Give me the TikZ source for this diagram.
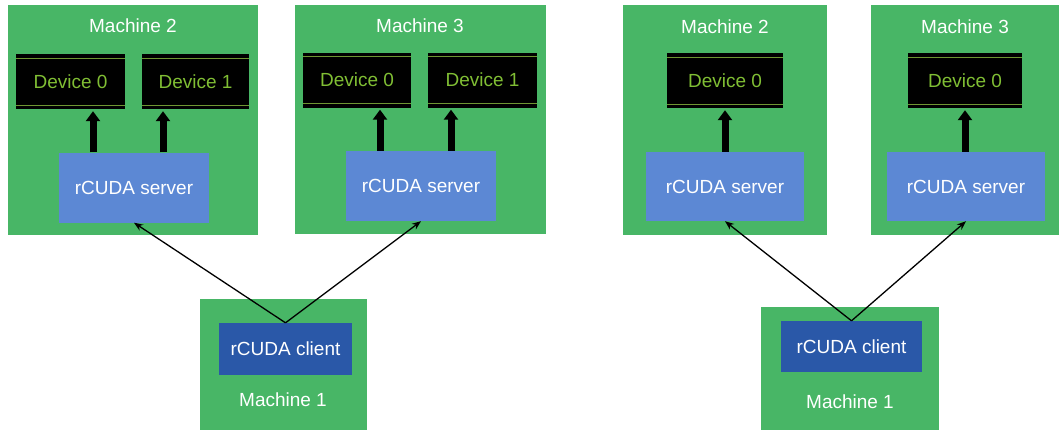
\documentclass[tikz,border=0pt]{standalone}
\usepackage{fontspec}
\setmainfont{Liberation Sans}
\usepackage{tikz}
\usetikzlibrary{arrows.meta}

\definecolor{machgreen}{RGB}{72,182,102}
\definecolor{srvblue}{RGB}{92,136,212}
\definecolor{clntblue}{RGB}{42,88,168}
\definecolor{devtext}{RGB}{128,190,52}
\definecolor{devline}{RGB}{110,150,50}

\tikzset{
	machine/.style={fill=machgreen, inner sep=0pt},
	machlabel/.style={text=white, inner sep=0pt},
	device/.style={fill=black, text=devtext, inner sep=0pt, minimum height=55pt,
		path picture={
			\draw[devline, line width=1pt] ([yshift=-4pt]path picture bounding box.north west) -- ([yshift=-4pt]path picture bounding box.north east);
			\draw[devline, line width=1pt] ([yshift=4pt]path picture bounding box.south west) -- ([yshift=4pt]path picture bounding box.south east);
		}},
	server/.style={fill=srvblue, text=white, inner sep=0pt, minimum width=152pt, minimum height=70pt},
	client/.style={fill=clntblue, text=white, inner sep=0pt, minimum height=52pt},
	bigarrow/.style={line width=7pt, -{Triangle[width=14pt,length=10pt]}, shorten >=2pt},
	link/.style={line width=1.3pt, -{Stealth[length=9pt,width=7pt]}}
}

\begin{document}
\begin{tikzpicture}[x=1pt, y=-1pt, font=\fontsize{19}{22}\selectfont]
	\useasboundingbox[fill=white] (0,0) rectangle (1064,429);

	% Left setup
	%Machines
	\node[machine, minimum width=250pt, minimum height=230pt] (m2a) at (133,120) {};
	\node[machine, minimum width=251pt, minimum height=229pt] (m3a) at (420.5,119.5) {};
	\node[machine, minimum width=167pt, minimum height=133pt] (m1a) at (283.5,365.5) {};
	\node[machlabel] (l2a) at (133,26) {Machine 2};
	\node[machlabel] (l3a) at (420,26) {Machine 3};
	\node[machlabel] (l1a) at (283,400) {Machine 1};
	%Devices
	\node[device, minimum width=109pt] (d0a) at (70.5,81.5) {Device 0};
	\node[device, minimum width=107pt] (d1a) at (195.5,81.5) {Device 1};
	\node[device, minimum width=108pt] (d2a) at (357,80) {Device 0};
	\node[device, minimum width=109pt] (d3a) at (482.5,80) {Device 1};
	%Servers and client
	\node[server, minimum width=150pt] (s2a) at (134,187.5) {rCUDA server};
	\node[server, minimum width=150pt] (s3a) at (421,186) {rCUDA server};
	\node[client, minimum width=133pt] (ca) at (285.5,349) {rCUDA client};
	%Arrows
	\draw[bigarrow] (s2a.north -| 93,0) -- (d0a.south -| 93,0);
	\draw[bigarrow] (s2a.north -| 163,0) -- (d1a.south -| 163,0);
	\draw[bigarrow] (s3a.north -| 380,0) -- (d2a.south -| 380,0);
	\draw[bigarrow] (s3a.north -| 451,0) -- (d3a.south -| 451,0);
	\draw[link] (ca.north) -- (s2a.south);
	\draw[link] (ca.north) -- (s3a.south);

	% Right setup
	%Machines
	\node[machine, minimum width=204pt, minimum height=230pt] (m2b) at (725,120) {};
	\node[machine, minimum width=188pt, minimum height=230pt] (m3b) at (965,120) {};
	\node[machine, minimum width=178pt, minimum height=125pt] (m1b) at (850,369.5) {};
	\node[machlabel] (l2b) at (725,27) {Machine 2};
	\node[machlabel] (l3b) at (965,27) {Machine 3};
	\node[machlabel] (l1b) at (850,402) {Machine 1};
	%Devices
	\node[device, minimum width=116pt] (d0b) at (725,80.5) {Device 0};
	\node[device, minimum width=114pt] (d1b) at (965,80.5) {Device 0};
	%Servers and client
	\node[server, minimum width=158pt, minimum height=69pt] (s2b) at (725,186.5) {rCUDA server};
	\node[server, minimum width=158pt, minimum height=69pt] (s3b) at (966,186.5) {rCUDA server};
	\node[client, minimum width=141pt, minimum height=51pt] (cb) at (851.5,346.5) {rCUDA client};
	%Arrows
	\draw[bigarrow] (s2b.north -| d0b) -- (d0b.south);
	\draw[bigarrow] (s3b.north -| d1b) -- (d1b.south);
	\draw[link] (cb.north) -- (s2b.south);
	\draw[link] (cb.north) -- (s3b.south);
\end{tikzpicture}
\end{document}
